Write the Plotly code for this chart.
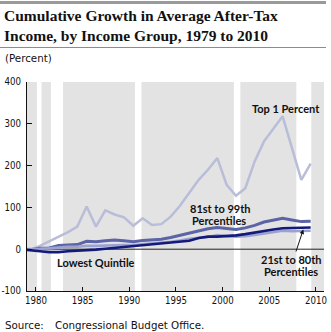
import plotly.graph_objects as go

# ---------------- data ----------------
years = list(range(1979, 2011))
top_1_percent = [0, -1, 8, 19, 30, 41, 54, 102, 54, 93, 83, 76, 56, 74, 58, 60,
                 78, 104, 135, 166, 190, 218, 154, 128, 146, 210, 258, 288, 318, 242, 166, 205]
pct_81_to_99 = [0, -1, 2, 3, 9, 10, 11, 19, 18, 20, 22, 20, 18, 21, 22, 24,
                28, 33, 38, 44, 49, 52, 49, 47, 51, 57, 65, 70, 74, 70, 66, 67]
pct_21_to_80 = [0, 0, 1, 2, 4, 6, 6, 8, 8, 9, 10, 10, 10, 12, 13, 15,
                18, 21, 25, 27, 29, 34, 31, 30, 31, 34, 37, 40, 44, 43, 44, 44]
lowest_quintile = [0, -3, -5, -7, -7, -5, -4, -3, -1, 1, 3, 5, 7, 9, 11, 13,
                   15, 17, 20, 27, 30, 30, 31, 33, 36, 40, 43, 47, 50, 51, 52, 52]
recessions = [(1980.1, 1980.6), (1981.6, 1982.9), (1990.6, 1991.3), (2001.2, 2001.9), (2007.9, 2009.5)]
x_tick_labels = [1980, 1985, 1990, 1995, 2000, 2005, 2010]
y_tick_values = [-100, 0, 100, 200, 300, 400]

# ---------------- layout constants ----------------
W, H = 331, 332
PL, PR, PT, PB = 27, 7, 82, 41
DATA_SHIFT = -0.57  # series points sit slightly left of the calendar ticks


def px(x):
    return (x - PL) / (W - PL - PR)


def py(y):
    return (H - PB - y) / (H - PT - PB)


xs = [y + DATA_SHIFT for y in years]

fig = go.Figure()
series = [
    ("Top 1 Percent", top_1_percent, "#b9bdd8", 2.5),
    ("81st to 99th Percentiles", pct_81_to_99, "#5c64a6", 3),
    ("21st to 80th Percentiles", pct_21_to_80, "#9ba2d1", 2.6),
    ("Lowest Quintile", lowest_quintile, "#141a7a", 2.6),
]
for name, vals, color, w in series:
    fig.add_trace(go.Scatter(x=xs, y=vals, mode="lines", name=name,
                             line=dict(color=color, width=w), showlegend=False,
                             hoverinfo="skip"))

shapes = []
for a, b in recessions:
    shapes.append(dict(type="rect", xref="x", yref="paper", x0=a, x1=b, y0=0, y1=1,
                       fillcolor="white", line=dict(width=0), layer="below"))
shapes.append(dict(type="line", xref="paper", yref="y", x0=0, x1=1, y0=0, y1=0,
                   line=dict(color="#222222", width=1), layer="below"))
# decorative rules
shapes.append(dict(type="rect", xref="paper", yref="paper", x0=px(0), x1=px(326),
                   y0=py(1), y1=py(4), fillcolor="#9a9a9a", line=dict(width=0)))
shapes.append(dict(type="line", xref="paper", yref="paper", x0=px(0), x1=px(326),
                   y0=py(47.5), y1=py(47.5), line=dict(color="#8c8c8c", width=1)))

LBL = dict(family="Lato, Roboto, sans-serif", size=11, color="#111111")
SRC = dict(family="DejaVu Sans, sans-serif", size=10.3, color="#111111")


def ann(text, x, y, font, xanchor="center"):
    return dict(text=text, x=px(x), y=py(y), xref="paper", yref="paper",
                showarrow=False, xanchor=xanchor, yanchor="middle", font=font)


annotations = [
    dict(text="<b>Cumulative Growth in Average After-Tax<br>Income, by Income Group, 1979 to 2010</b>",
         x=px(2), y=py(5), xref="paper", yref="paper", showarrow=False,
         xanchor="left", yanchor="top", align="left",
         font=dict(family="Liberation Serif, serif", size=15.5, color="#111111")),
    ann("(Percent)", 3, 57.5, SRC, "left"),
    ann("Source:", 3, 325, SRC, "left"),
    ann("Congressional Budget Office.", 52.5, 325, SRC, "left"),
    ann("<b>Top 1 Percent</b>", 286.3, 108.5, LBL),
    ann("<b>81st to 99th</b>", 219.5, 208.5, LBL),
    ann("<b>Percentiles</b>", 219.2, 220.5, LBL),
    ann("<b>Lowest Quintile</b>", 96.3, 262, LBL),
    ann("<b>21st to 80th</b>", 291, 259, LBL),
    ann("<b>Percentiles</b>", 291.3, 271.2, LBL),
    dict(text="", x=px(303.3), y=py(229.5), xref="paper", yref="paper",
         showarrow=True, ax=-7.8, ay=23.5, arrowhead=2, arrowsize=0.9,
         arrowwidth=1, arrowcolor="#111111"),
]

TICKF = dict(family="DejaVu Sans Condensed, DejaVu Sans, sans-serif", size=9.6, color="#111111")

fig.update_layout(
    template="none",
    width=W, height=H, autosize=False,
    margin=dict(l=PL, r=PR, t=PT, b=PB, pad=0, autoexpand=False),
    paper_bgcolor="white", plot_bgcolor="#e3e3e3",
    shapes=shapes, annotations=annotations, showlegend=False,
    xaxis=dict(range=[1979.04, 2010.86], tickvals=x_tick_labels,
               ticktext=[str(v) for v in x_tick_labels], automargin=False,
               ticks="inside", ticklen=4, tickcolor="#111111", tickwidth=1,
               showline=True, linecolor="#111111", linewidth=1,
               showgrid=False, zeroline=False, tickfont=TICKF, fixedrange=True),
    yaxis=dict(range=[-100, 400], tickvals=y_tick_values,
               ticktext=[str(v) for v in y_tick_values], automargin=False,
               ticks="inside", ticklen=5, tickcolor="#111111", tickwidth=1,
               ticklabelstandoff=3,
               showline=True, linecolor="#111111", linewidth=1,
               showgrid=False, zeroline=False, tickfont=TICKF, fixedrange=True),
)

fig.write_html("out.html", config={"responsive": False, "displayModeBar": False})
